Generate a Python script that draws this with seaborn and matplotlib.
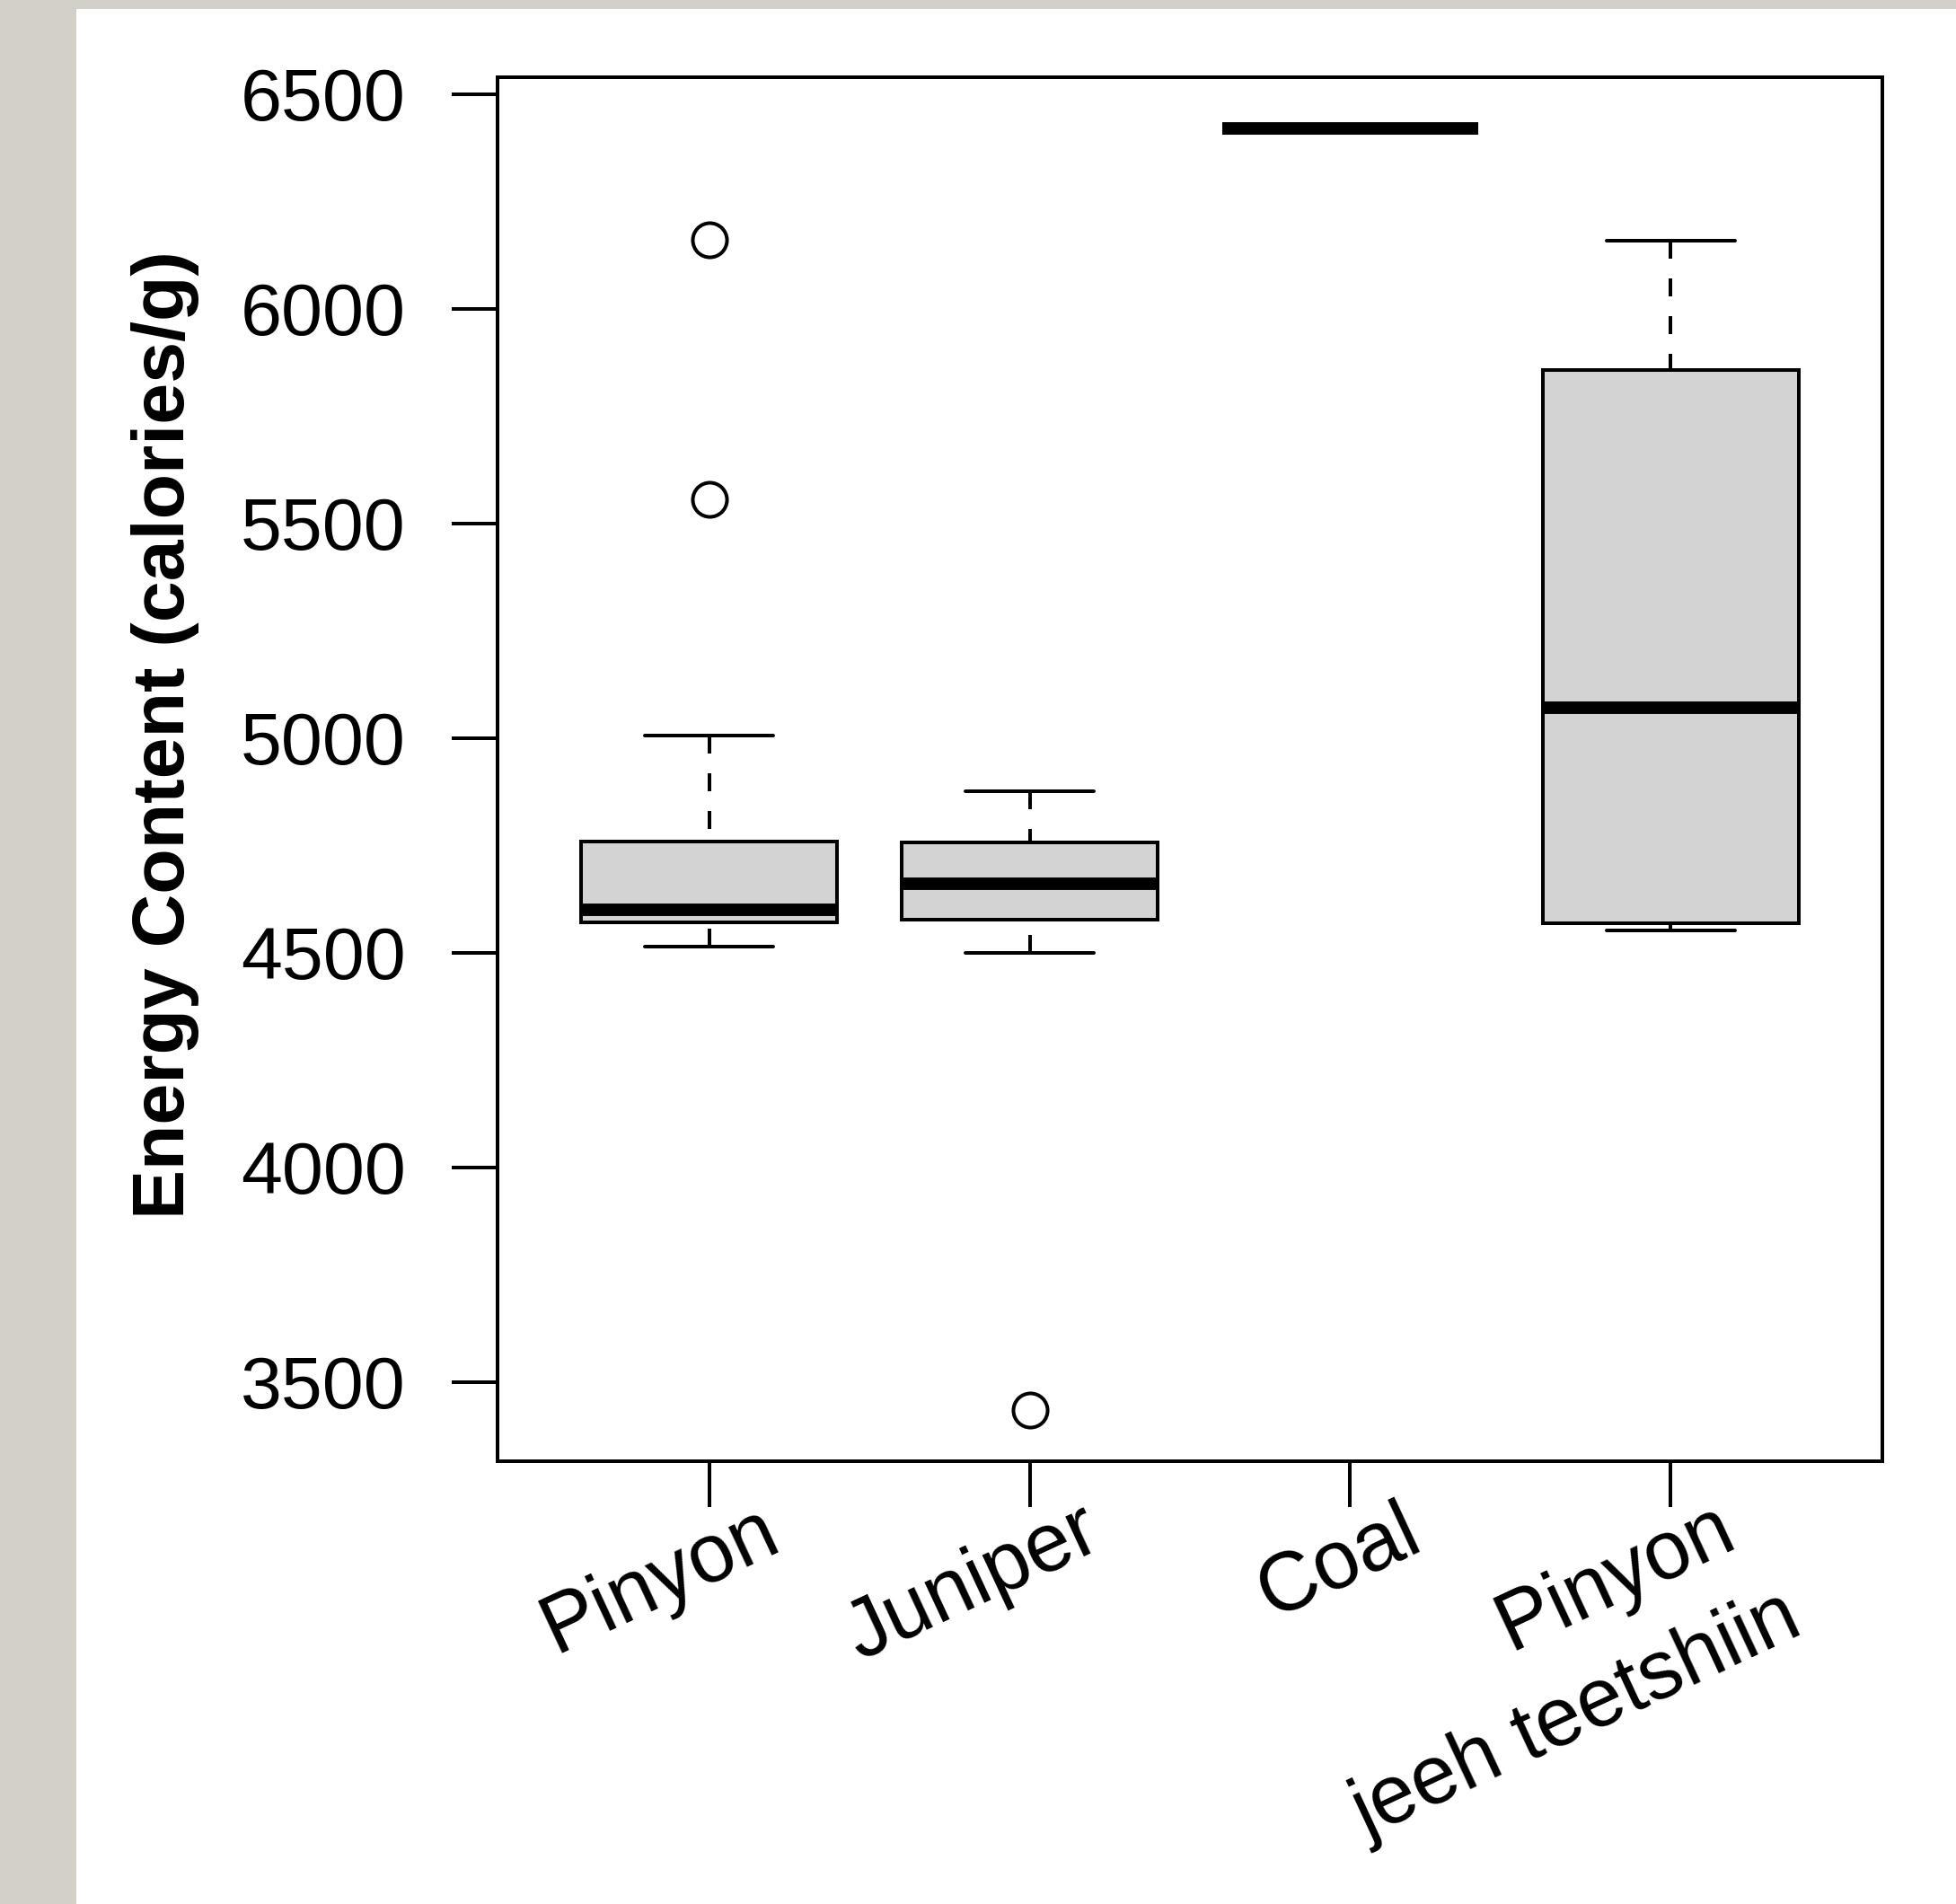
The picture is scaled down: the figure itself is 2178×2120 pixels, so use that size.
import pandas as pd
import seaborn as sns
import matplotlib.pyplot as plt
from matplotlib.patches import Rectangle
from matplotlib.transforms import ScaledTranslation

# valores (calorias/g)
pinyon = [4515, 4540, 4560, 4571, 4585, 4595, 4600, 4650, 4700, 4759, 5006, 5556, 6160]
juniper = [3435, 4500, 4577, 4620, 4661, 4700, 4757, 4820, 4877]
coal = [6420, 6420, 6420]
pinyon_jt = [4552, 4569, 5071, 5858, 6159]

groups = ["Pinyon", "Juniper", "Coal", "Pinyon\njeeh teetshiin"]
x_labels = ["Pinyon", "Juniper", "Coal", "Pinyon \njeeh teetshiin"]
y_ticks = [3500, 4000, 4500, 5000, 5500, 6000, 6500]

df = pd.DataFrame({
    "fuel": [groups[0]] * len(pinyon) + [groups[1]] * len(juniper)
            + [groups[2]] * len(coal) + [groups[3]] * len(pinyon_jt),
    "energy": pinyon + juniper + coal + pinyon_jt,
})

sns.set_theme(style="white")
plt.rcParams["font.family"] = ["Liberation Sans", "DejaVu Sans"]
plt.rcParams["text.color"] = "black"
plt.rcParams["axes.labelcolor"] = "black"

DPI = 200
W, H = 2178, 2120
fig = plt.figure(figsize=(W / DPI, H / DPI), dpi=DPI, facecolor="#d3d1c7")
# fundo branco do slide
fig.add_artist(Rectangle((85 / W, 0), 1, (H - 10) / H, transform=fig.transFigure,
                         facecolor="white", edgecolor="none", zorder=0))

ax = fig.add_axes([554 / W, (H - 1627) / H, (2096 - 554) / W, (1627 - 86) / H])
ax.set_facecolor("white")

lw = 1.44
sns.boxplot(
    data=df, x="fuel", y="energy", order=groups, ax=ax,
    color="#d3d3d3", saturation=1, linecolor="black", linewidth=lw,
    width=0.8, whis=1.5, fliersize=13.7,
    flierprops=dict(marker="o", markerfacecolor="none", markeredgecolor="black",
                    markeredgewidth=lw),
    medianprops=dict(linewidth=5.0, color="black", solid_capstyle="butt"),
    whiskerprops=dict(linestyle=(0, (5.0, 5.5)), dash_capstyle="butt"),
    capprops=dict(solid_capstyle="round"),
)

# no R o tracejado comeca na ponta do bigode
for ln in ax.lines:
    if ln.get_linestyle() == "--":
        ln.set_ydata(ln.get_ydata()[::-1])

ymin, ymax = 3435, 6420
pad_y = (ymax - ymin) * 0.04
ax.set_ylim(ymin - pad_y, ymax + pad_y)
ax.set_xlim(-0.66, 3.66)

ax.set_yticks(y_ticks)
ax.set_yticklabels([str(v) for v in y_ticks])
ax.tick_params(axis="y", length=18.4, width=lw, pad=18.4, labelsize=29.7, colors="black")
ax.tick_params(axis="x", length=18.4, width=lw, pad=15.8, labelsize=33, colors="black")
ax.tick_params(left=True, bottom=True)

ax.set_xticks(range(len(groups)))
ax.set_xticklabels(x_labels, rotation=25, ha="right", va="baseline",
                   rotation_mode="anchor", linespacing=1.48)
# deslocamento de cada rotulo (px); o ultimo ancora na segunda linha
label_dx = [83, 83, 83, 136]
label_dy = [0, 0, 0, -68]
for lab, dx, dy in zip(ax.get_xticklabels(), label_dx, label_dy):
    lab.set_transform(lab.get_transform()
                      + ScaledTranslation(dx / DPI, dy / DPI, fig.dpi_scale_trans))

ax.set_xlabel("")
ax.set_ylabel("Energy Content (calories/g)", fontsize=29.7, fontweight="bold",
              color="black")
ax.yaxis.set_label_coords(-0.2153, 0.525)

for sp in ax.spines.values():
    sp.set_visible(True)
    sp.set_color("black")
    sp.set_linewidth(lw)

fig.savefig("out.png", dpi=DPI, facecolor=fig.get_facecolor())
